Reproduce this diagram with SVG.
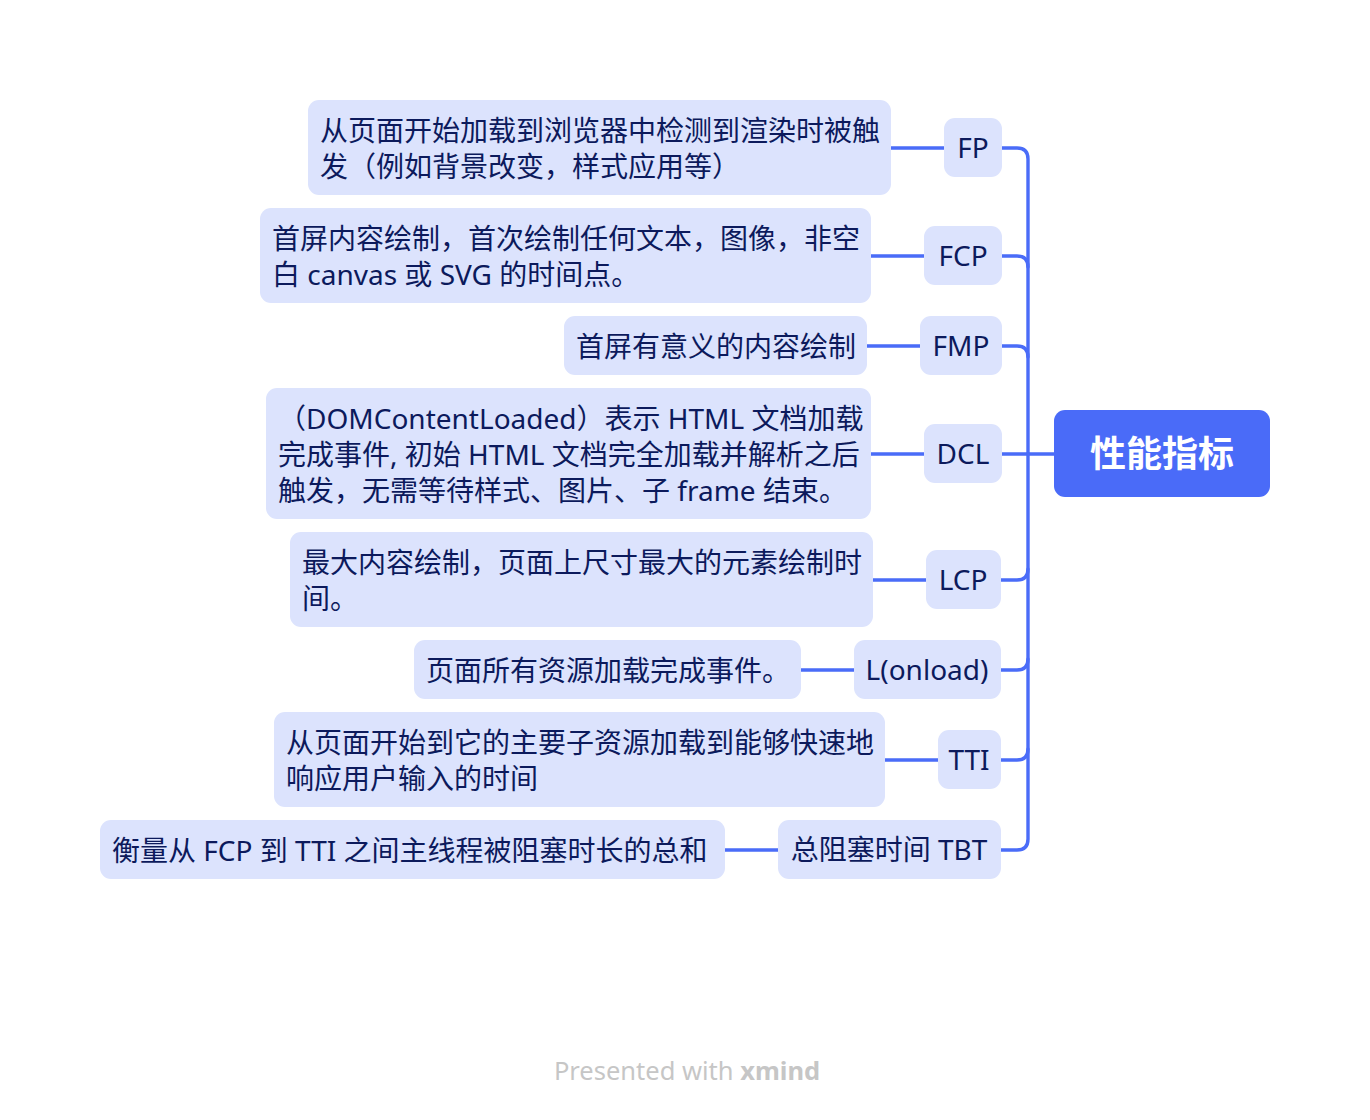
<svg xmlns="http://www.w3.org/2000/svg" width="1370" height="1120" viewBox="0 0 1370 1120">
<style>
.box{fill:#DCE3FD;}
.t{font-family:"Noto Sans","Noto Sans CJK SC",sans-serif;font-size:28px;fill:#0C1A5C;}
.c{text-anchor:middle;}
.ln{fill:none;stroke:#4A6CF8;stroke-width:3.4;stroke-linecap:round;}
</style>
<rect width="1370" height="1120" fill="#FFFFFF"/>
<g id="connectors">
<path class="ln" d="M1001,148 H1017 Q1028,148 1028,159 V454"/>
<path class="ln" d="M1001,256 H1017 Q1028,256 1028,267"/>
<path class="ln" d="M1001,346 H1017 Q1028,346 1028,357"/>
<path class="ln" d="M1001,454 H1054"/>
<path class="ln" d="M1001,580 H1017 Q1028,580 1028,569"/>
<path class="ln" d="M1001,670 H1017 Q1028,670 1028,659"/>
<path class="ln" d="M1001,760 H1017 Q1028,760 1028,749"/>
<path class="ln" d="M1001,850 H1017 Q1028,850 1028,839 V454"/>
<path class="ln" d="M891,148 H944"/>
<path class="ln" d="M871,256 H924"/>
<path class="ln" d="M867,346 H920"/>
<path class="ln" d="M871,454 H924"/>
<path class="ln" d="M873,580 H926"/>
<path class="ln" d="M801,670 H854"/>
<path class="ln" d="M885,760 H938"/>
<path class="ln" d="M725,850 H778"/>
</g>
<g id="root">
<rect x="1054" y="410" width="216" height="87" rx="11" fill="#4A6BF8"/>
<text x="1162" y="467" class="c" font-family="'Noto Sans CJK SC',sans-serif" font-size="36" font-weight="bold" fill="#FFFFFF">性能指标</text>
</g>
<g id="n-fp">
<rect class="box" x="944" y="118" width="58" height="59" rx="11"/>
<text class="t c" x="973" y="158">FP</text>
</g>
<g id="d-fp">
<rect class="box" x="308" y="100" width="583" height="95" rx="11"/>
<text class="t" x="320" y="141">从页面开始加载到浏览器中检测到渲染时被触</text>
<text class="t" x="320" y="177">发（例如背景改变，样式应用等）</text>
</g>
<g id="n-fcp">
<rect class="box" x="924" y="226" width="78" height="59" rx="11"/>
<text class="t c" x="963" y="266">FCP</text>
</g>
<g id="d-fcp">
<rect class="box" x="260" y="208" width="611" height="95" rx="11"/>
<text class="t" x="272" y="249">首屏内容绘制，首次绘制任何文本，图像，非空</text>
<text class="t" x="272" y="285">白 canvas 或 SVG 的时间点。</text>
</g>
<g id="n-fmp">
<rect class="box" x="920" y="316" width="82" height="59" rx="11"/>
<text class="t c" x="961" y="356">FMP</text>
</g>
<g id="d-fmp">
<rect class="box" x="564" y="316" width="303" height="59" rx="11"/>
<text class="t" x="576" y="357">首屏有意义的内容绘制</text>
</g>
<g id="n-dcl">
<rect class="box" x="924" y="424" width="78" height="59" rx="11"/>
<text class="t c" x="963" y="464">DCL</text>
</g>
<g id="d-dcl">
<rect class="box" x="266" y="388" width="605" height="131" rx="11"/>
<text class="t" x="278" y="429">（DOMContentLoaded）表示 HTML 文档加载</text>
<text class="t" x="278" y="465">完成事件, 初始 HTML 文档完全加载并解析之后</text>
<text class="t" x="278" y="501">触发，无需等待样式、图片、子 frame 结束。</text>
</g>
<g id="n-lcp">
<rect class="box" x="926" y="550" width="75" height="59" rx="11"/>
<text class="t c" x="963" y="590">LCP</text>
</g>
<g id="d-lcp">
<rect class="box" x="290" y="532" width="583" height="95" rx="11"/>
<text class="t" x="302" y="573">最大内容绘制，页面上尺寸最大的元素绘制时</text>
<text class="t" x="302" y="609">间。</text>
</g>
<g id="n-l">
<rect class="box" x="854" y="640" width="147" height="59" rx="11"/>
<text class="t c" x="927" y="680">L(onload)</text>
</g>
<g id="d-l">
<rect class="box" x="414" y="640" width="387" height="59" rx="11"/>
<text class="t" x="426" y="681">页面所有资源加载完成事件。</text>
</g>
<g id="n-tti">
<rect class="box" x="938" y="730" width="63" height="59" rx="11"/>
<text class="t c" x="969" y="770">TTI</text>
</g>
<g id="d-tti">
<rect class="box" x="274" y="712" width="611" height="95" rx="11"/>
<text class="t" x="286" y="753">从页面开始到它的主要子资源加载到能够快速地</text>
<text class="t" x="286" y="789">响应用户输入的时间</text>
</g>
<g id="n-tbt">
<rect class="box" x="778" y="820" width="223" height="59" rx="11"/>
<text class="t c" x="889" y="860">总阻塞时间 TBT</text>
</g>
<g id="d-tbt">
<rect class="box" x="100" y="820" width="625" height="59" rx="11"/>
<text class="t" x="112" y="861">衡量从 FCP 到 TTI 之间主线程被阻塞时长的总和</text>
</g>
<text x="687" y="1080" class="c" font-family="'Noto Sans',sans-serif" font-size="25.5" fill="#C6C6C6">Presented with <tspan font-weight="bold">xmind</tspan></text>
</svg>
